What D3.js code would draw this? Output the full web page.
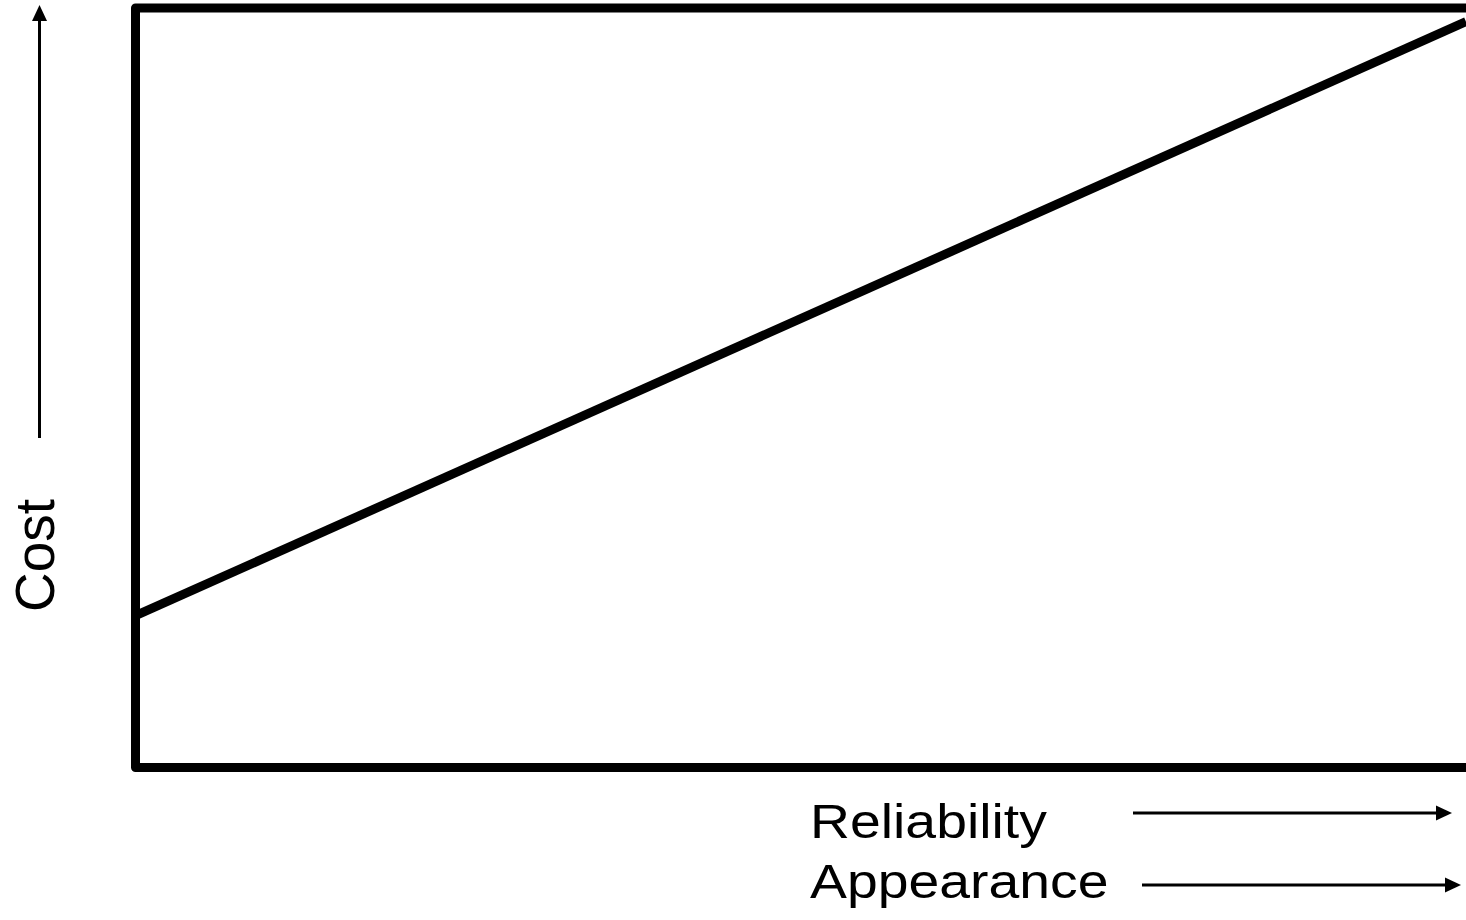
<!DOCTYPE html>
<html>
<head>
<meta charset="utf-8">
<script src="https://cdn.jsdelivr.net/npm/d3@7"></script>
<style>
  html, body { margin: 0; padding: 0; background: #fff; overflow: hidden; }
  text { font-family: "Liberation Sans", Arial, sans-serif; fill: #000; }
</style>
</head>
<body>
<div id="chart"></div>
<script>
// quality level (0-100) vs relative cost
var quality = [0, 100];
var cost = [20, 98.2];
var xLabels = ["Reliability", "Appearance"];
var yLabel = "Cost";

var W = 1466, H = 920;
var margin = {top: 8, right: 0, bottom: 152.5, left: 135.5};

var svg = d3.select("#chart").append("svg")
    .attr("width", W)
    .attr("height", H);

var x = d3.scaleLinear().domain([0, 100]).range([margin.left, W - margin.right]);
var y = d3.scaleLinear().domain([0, 100]).range([H - margin.bottom, margin.top]);

// frame (right side runs off the page)
svg.append("rect")
    .attr("x", x(0))
    .attr("y", y(100))
    .attr("width", x(100) - x(0) + 10)
    .attr("height", y(0) - y(100))
    .attr("fill", "none")
    .attr("stroke", "#000")
    .attr("stroke-width", 9)
    .attr("stroke-linejoin", "round");

var line = d3.line()
    .x(function(d, i) { return x(quality[i]); })
    .y(function(d) { return y(d); });

svg.append("path")
    .datum(cost)
    .attr("d", line)
    .attr("fill", "none")
    .attr("stroke", "#000")
    .attr("stroke-width", 9);

function arrow(x1, y1, x2, y2) {
    var ang = Math.atan2(y2 - y1, x2 - x1);
    var len = 16, half = 7.5;
    var bx = x2 - len * Math.cos(ang), by = y2 - len * Math.sin(ang);
    svg.append("line")
        .attr("x1", x1).attr("y1", y1)
        .attr("x2", bx).attr("y2", by)
        .attr("stroke", "#000")
        .attr("stroke-width", 3);
    var px = -Math.sin(ang) * half, py = Math.cos(ang) * half;
    svg.append("path")
        .attr("d", "M" + x2 + "," + y2 + "L" + (bx + px) + "," + (by + py) + "L" + (bx - px) + "," + (by - py) + "Z")
        .attr("fill", "#000");
}

// y label + arrow
svg.append("text")
    .attr("transform", "translate(54,612) rotate(-90)")
    .style("font-size", "55px")
    .text(yLabel);
arrow(39.5, 438, 39.5, 5);

// x labels + arrows
var labelY = [838, 898];
var arrowRows = [[1133, 813, 1452], [1142, 885, 1461]];
xLabels.forEach(function(t, i) {
    svg.append("text")
        .attr("transform", "translate(810," + labelY[i] + ") scale(1.13,1)")
        .style("font-size", "49px")
        .text(t);
    arrow(arrowRows[i][0], arrowRows[i][1], arrowRows[i][2], arrowRows[i][1]);
});
</script>
</body>
</html>
